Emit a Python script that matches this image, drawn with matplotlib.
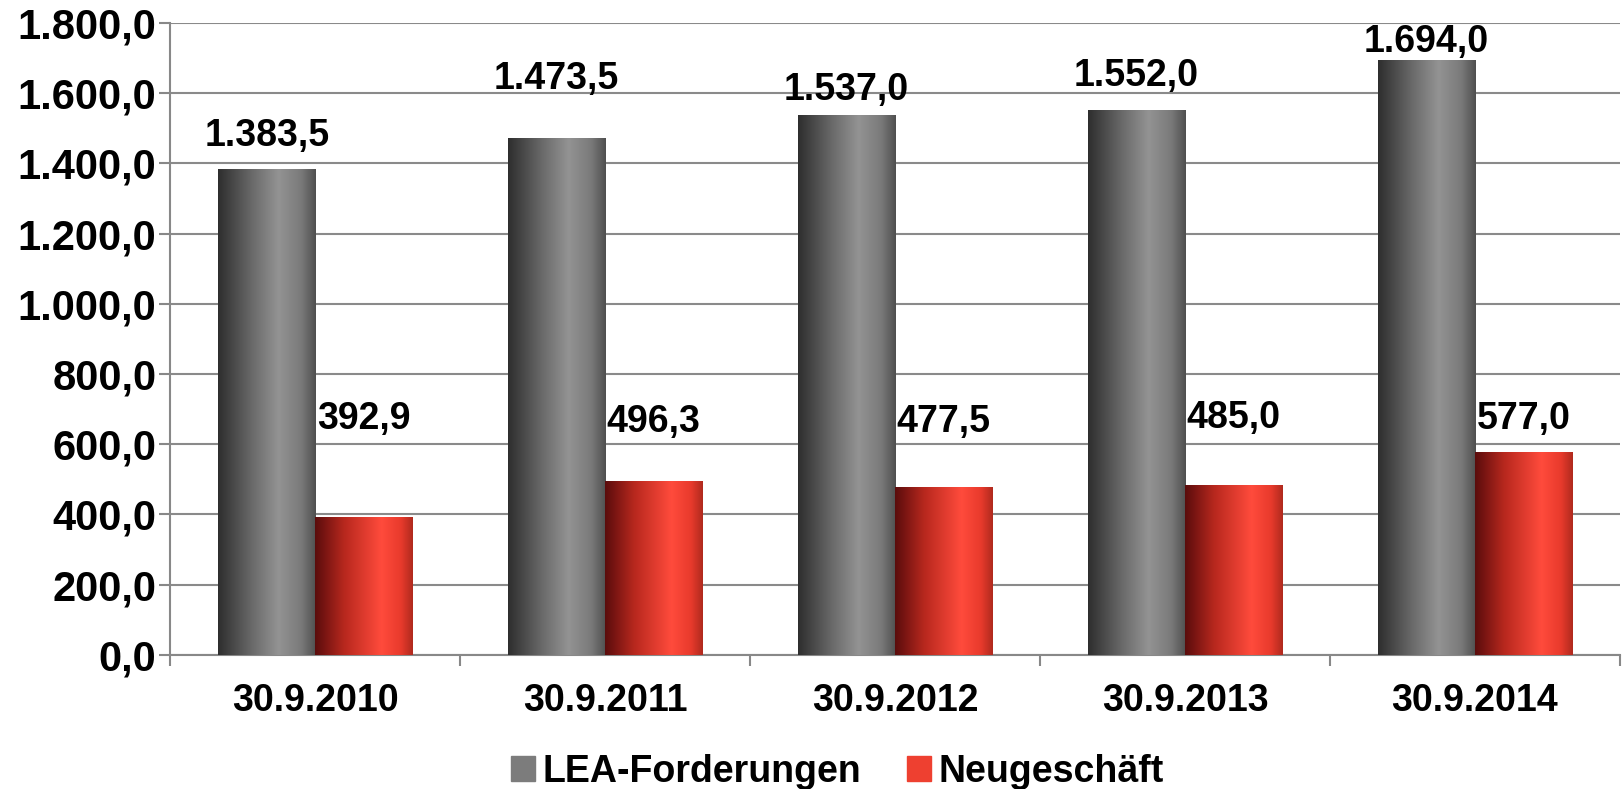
import numpy as np
import matplotlib.pyplot as plt
from matplotlib.colors import LinearSegmentedColormap
from matplotlib.ticker import FuncFormatter

plt.rcParams['font.family'] = ['Liberation Sans', 'DejaVu Sans']
plt.rcParams['font.weight'] = 'bold'

kategorien = ["30.9.2010", "30.9.2011", "30.9.2012", "30.9.2013", "30.9.2014"]
lea = [1383.5, 1473.5, 1537.0, 1552.0, 1694.0]
neu = [392.9, 496.3, 477.5, 485.0, 577.0]

# Abstand der Beschriftung ueber dem Balken (Pixel), wie im Original
lea_off = [33, 59, 25, 34, 18]
neu_off = [98, 59, 65, 67, 33]


def de_fmt(v, dec=1):
    s = f"{v:,.{dec}f}"
    return s.replace(",", "X").replace(".", ",").replace("X", ".")


fig = plt.figure(figsize=(16.23, 7.89), dpi=100)
ax = fig.add_axes([0.105, 0.170, 0.893, 0.801])

x = np.arange(len(kategorien))
w = 0.335
grau = ax.bar(x - w / 2, lea, w, color="#707070", zorder=3)
rot = ax.bar(x + w / 2, neu, w, color="#e8402f", zorder=3)

cm_grau = LinearSegmentedColormap.from_list(
    "g", [(0, "#2e2e2e"), (0.35, "#6a6a6a"), (0.62, "#939393"), (0.85, "#7a7a7a"), (1, "#505050")])
cm_rot = LinearSegmentedColormap.from_list(
    "r", [(0, "#5a0c0c"), (0.3, "#b8281e"), (0.68, "#ff4b3c"), (0.88, "#e83a2c"), (1, "#b02a1e")])
grad = np.linspace(0, 1, 256).reshape(1, -1)

for bars, cm in [(grau, cm_grau), (rot, cm_rot)]:
    for b in bars:
        x0, y0 = b.get_x(), b.get_y()
        im = ax.imshow(grad, cmap=cm, aspect="auto", zorder=4,
                       extent=[x0, x0 + b.get_width(), y0, y0 + b.get_height()])
        im.set_clip_path(b)

for i in range(len(kategorien)):
    ax.annotate(de_fmt(lea[i]), (x[i] - w / 2, lea[i]), xytext=(0, lea_off[i]),
                textcoords="offset pixels", ha="center", va="center",
                fontsize=27, fontweight="bold", zorder=5)
    ax.annotate(de_fmt(neu[i]), (x[i] + w / 2, neu[i]), xytext=(0, neu_off[i]),
                textcoords="offset pixels", ha="center", va="center",
                fontsize=27, fontweight="bold", zorder=5)

ax.set_xlim(-0.5, len(kategorien) - 0.5)
ax.set_ylim(0, 1800)
ax.set_yticks(np.arange(0, 1801, 200))
ax.yaxis.set_major_formatter(FuncFormatter(lambda v, p: de_fmt(v)))
ax.set_xticks(x)
ax.set_xticklabels(kategorien)
ax.set_xticks(np.arange(-0.5, len(kategorien), 1), minor=True)
ax.tick_params(axis="x", which="major", length=0, pad=20, labelsize=27)
ax.tick_params(axis="x", which="minor", length=8, width=1.5, color="#888888")
ax.tick_params(axis="y", length=8, width=1.5, color="#888888", pad=2, labelsize=30)
for lab in ax.get_xticklabels() + ax.get_yticklabels():
    lab.set_fontweight("bold")

ax.grid(axis="y", color="#8a8a8a", linewidth=1.5, zorder=0)
for s in ["top", "right"]:
    ax.spines[s].set_visible(False)
for s in ["left", "bottom"]:
    ax.spines[s].set_color("#888888")
    ax.spines[s].set_linewidth(1.5)

hg = plt.Rectangle((0, 0), 1, 1, color="#7c7c7c")
hr = plt.Rectangle((0, 0), 1, 1, color="#ee4030")
fig.legend([hg, hr], ["LEA-Forderungen", "Neugeschäft"], loc="center",
           bbox_to_anchor=(0.516, 0.022), ncol=2, frameon=False,
           prop={"size": 27, "weight": "bold"}, handlelength=0.65, handleheight=0.65,
           handletextpad=0.2, columnspacing=1.2)

fig.savefig("out.png", dpi=100)
